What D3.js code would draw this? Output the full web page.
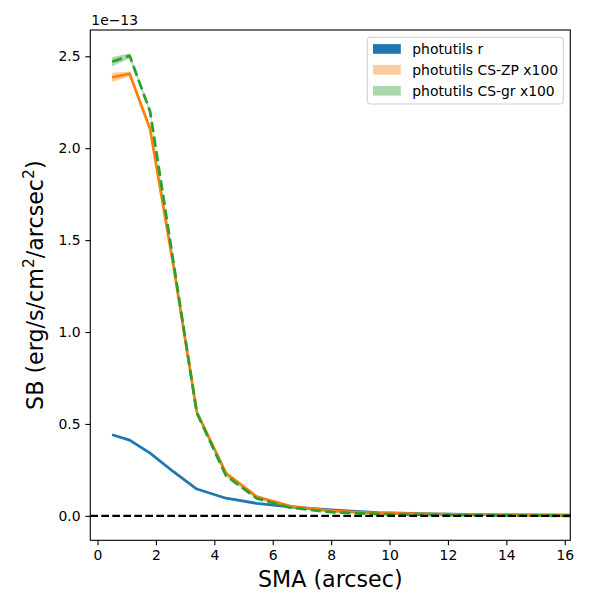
<!DOCTYPE html>
<html>
<head>
<meta charset="utf-8">
<script src="https://cdn.jsdelivr.net/npm/d3@7"></script>
<style>
  body { margin: 0; background: white; }
  svg { font-family: "DejaVu Sans", sans-serif; }
  .axis text { font-size: 13.9px; fill: black; }
  .axis path, .axis line { stroke: black; stroke-width: 1.1; }
</style>
</head>
<body>
<svg id="chart" width="600" height="600"></svg>
<script>
// semi-major axis values (arcsec)
var smaValues = [0.5, 1.1, 1.8, 2.6, 3.4, 4.4, 5.45, 6.6, 8.0, 9.6, 11.5, 13.8, 16.6];

// surface brightness, units of 1e-13
var rFlux = [0.441, 0.412, 0.341, 0.240, 0.146, 0.096, 0.068, 0.049, 0.032, 0.018, 0.010, 0.005, 0.003];
var rErr = [0.003, 0.003, 0.002, 0.002, 0.001, 0.001, 0.001, 0.001, 0.001, 0.001, 0.001, 0.001, 0.001];

var zpFlux = [2.385, 2.405, 2.105, 1.36, 0.565, 0.232, 0.105, 0.053, 0.027, 0.015, 0.009, 0.005, 0.003];
var zpErr = [0.026, 0.012, 0.008, 0.006, 0.005, 0.004, 0.003, 0.002, 0.002, 0.001, 0.001, 0.001, 0.001];

var grFlux = [2.47, 2.503, 2.20, 1.38, 0.56, 0.218, 0.095, 0.045, 0.020, 0.010, 0.005, 0.002, 0.000];
var grErr = [0.025, 0.013, 0.010, 0.007, 0.006, 0.004, 0.003, 0.002, 0.002, 0.001, 0.001, 0.001, 0.001];

var xTicks = [0, 2, 4, 6, 8, 10, 12, 14, 16];
var yTicks = [0.0, 0.5, 1.0, 1.5, 2.0, 2.5];

var seriesNames = ["photutils r", "photutils CS-ZP x100", "photutils CS-gr x100"];
var seriesColors = ["#1f77b4", "#ff7f0e", "#2ca02c"];
var bandOpacity = [1, 0.4, 0.4];

var svg = d3.select("#chart");

var dims = { left: 90.3, right: 570.3, top: 30, bottom: 540.3 }; //axes box in pixels

var xScale = d3.scaleLinear().domain([-0.247, 16.19]).range([dims.left, dims.right]);
var yScale = d3.scaleLinear().domain([-0.133, 2.643]).range([dims.bottom, dims.top]);

svg
  .append("clipPath")
  .attr("id", "clip")
  .append("rect")
  .attr("x", dims.left)
  .attr("y", dims.top)
  .attr("width", dims.right - dims.left)
  .attr("height", dims.bottom - dims.top);

var plot = svg.append("g").attr("clip-path", "url(#clip)");

var series = [
  { flux: rFlux, err: rErr, dash: null },
  { flux: zpFlux, err: zpErr, dash: null },
  { flux: grFlux, err: grErr, dash: "10.3,4.45" },
];

var line = d3
  .line()
  .x((d) => xScale(d.x))
  .y((d) => yScale(d.y));

var band = d3
  .area()
  .x((d) => xScale(d.x))
  .y0((d) => yScale(d.y - d.e))
  .y1((d) => yScale(d.y + d.e));

series.forEach((s, i) => {
  var pts = smaValues.map((x, j) => ({ x: x, y: s.flux[j], e: s.err[j] }));
  plot
    .append("path")
    .attr("d", band(pts))
    .attr("fill", seriesColors[i])
    .attr("fill-opacity", bandOpacity[i]);
  plot
    .append("path")
    .attr("d", line(pts))
    .attr("fill", "none")
    .attr("stroke", seriesColors[i])
    .attr("stroke-width", 2.78)
    .attr("stroke-linejoin", "round")
    .attr("stroke-dasharray", s.dash);
});

// zero line
plot
  .append("line")
  .attr("x1", dims.left)
  .attr("x2", dims.right)
  .attr("y1", yScale(0))
  .attr("y2", yScale(0))
  .attr("stroke", "black")
  .attr("stroke-width", 2.1)
  .attr("stroke-dasharray", "7.7,3.3");

// frame
svg
  .append("rect")
  .attr("x", dims.left)
  .attr("y", dims.top)
  .attr("width", dims.right - dims.left)
  .attr("height", dims.bottom - dims.top)
  .attr("fill", "none")
  .attr("stroke", "black")
  .attr("stroke-width", 1.1);

var xAxis = d3.axisBottom(xScale).tickValues(xTicks).tickFormat(d3.format("d")).tickSize(4.9).tickPadding(4.9);
var yAxis = d3.axisLeft(yScale).tickValues(yTicks).tickFormat(d3.format(".1f")).tickSize(4.9).tickPadding(4.9);

svg
  .append("g")
  .attr("class", "axis")
  .attr("transform", "translate(0," + dims.bottom + ")")
  .call(xAxis)
  .call((g) => g.select(".domain").remove());

svg
  .append("g")
  .attr("class", "axis")
  .attr("transform", "translate(" + dims.left + ",0)")
  .call(yAxis)
  .call((g) => g.select(".domain").remove());

svg.selectAll(".axis text").attr("font-family", "DejaVu Sans");

// offset text
svg
  .append("text")
  .attr("x", dims.left + 1)
  .attr("y", 25)
  .attr("font-size", 13.9)
  .text("1e\u221213");

// axis labels
svg
  .append("text")
  .attr("x", (dims.left + dims.right) / 2)
  .attr("y", 587)
  .attr("text-anchor", "middle")
  .attr("font-size", 22.2)
  .text("SMA (arcsec)");

var ylab = svg
  .append("text")
  .attr("transform", "translate(43," + (dims.top + dims.bottom) / 2 + ") rotate(-90)")
  .attr("text-anchor", "middle")
  .attr("font-size", 22.2);
ylab.append("tspan").text("SB (erg/s/cm");
ylab.append("tspan").attr("font-size", 15.5).attr("dy", -9).text("2");
ylab.append("tspan").attr("dy", 9).text("/arcsec");
ylab.append("tspan").attr("font-size", 15.5).attr("dy", -9).text("2");
ylab.append("tspan").attr("dy", 9).text(")");

// legend
var legend = svg.append("g");
legend
  .append("rect")
  .attr("x", 367.3)
  .attr("y", 37.3)
  .attr("width", 196)
  .attr("height", 66.7)
  .attr("rx", 2.8)
  .attr("fill", "white")
  .attr("fill-opacity", 0.8)
  .attr("stroke", "#cccccc")
  .attr("stroke-width", 1);

seriesNames.forEach((name, i) => {
  var cy = 49 + i * 20.9;
  legend
    .append("rect")
    .attr("x", 373)
    .attr("y", cy - 4.9)
    .attr("width", 27.8)
    .attr("height", 9.7)
    .attr("fill", seriesColors[i])
    .attr("fill-opacity", bandOpacity[i]);
  legend
    .append("text")
    .attr("x", 412.3)
    .attr("y", cy)
    .attr("dy", "0.36em")
    .attr("font-size", 13.9)
    .text(name);
});
</script>
</body>
</html>
